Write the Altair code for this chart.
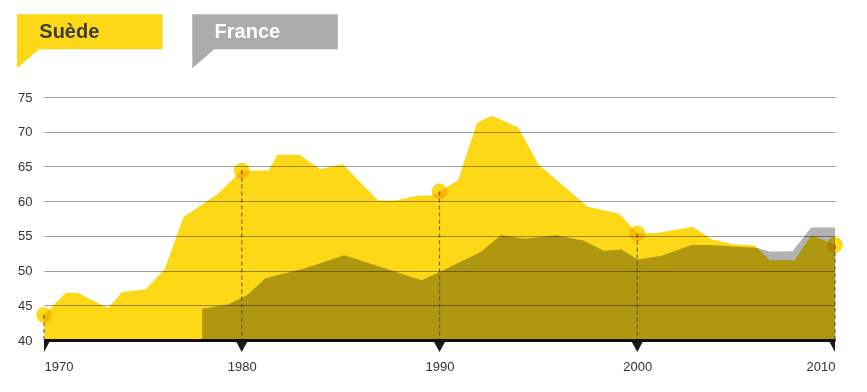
import altair as alt
import pandas as pd

# ---- data ----
sweden_years = [1970.0, 1971.1, 1971.7, 1973.24, 1973.95, 1975.14, 1976.1, 1977.05,
                1978.72, 1980.0, 1980.57, 1981.37, 1981.8, 1982.93, 1983.95, 1985.1,
                1986.9, 1987.8, 1988.9, 1989.6, 1990.0, 1990.94, 1991.9, 1992.65,
                1993.98, 1995.0, 1997.5, 1999.1, 2000.0, 2001.0, 2002.8, 2003.76,
                2004.85, 2005.95, 2006.7, 2007.97, 2008.8, 2010.0]
sweden_values = [43.6, 46.8, 46.8, 44.6, 46.9, 47.3, 50.2, 57.7,
                 60.9, 64.4, 64.4, 64.4, 66.7, 66.7, 64.6, 65.3,
                 60.1, 60.1, 60.8, 60.8, 61.4, 63.0, 71.3, 72.3,
                 70.6, 65.3, 59.2, 58.2, 55.35, 55.4, 56.3, 54.5,
                 53.8, 53.6, 51.5, 51.5, 55.1, 53.7]

france_years = [1978.0, 1979.3, 1980.3, 1981.2, 1983.15, 1985.2, 1989.1, 1990.0,
                1992.1, 1993.1, 1994.3, 1995.9, 1997.3, 1998.3, 1999.2, 2000.0,
                2001.2, 2002.75, 2003.6, 2006.0, 2006.75, 2007.85, 2008.8, 2010.0]
france_values = [44.5, 45.1, 46.5, 48.9, 50.3, 52.2, 48.6, 49.8,
                 52.7, 55.1, 54.6, 55.1, 54.3, 52.85, 53.05, 51.6,
                 52.1, 53.7, 53.7, 53.3, 52.7, 52.8, 56.2, 56.2]

series_names = ["Suède", "France"]
decades = [1970, 1980, 1990, 2000, 2010]
y_ticks = [40, 45, 50, 55, 60, 65, 70, 75]

# ---- styling ----
YELLOW = "#FCD817"
GREY = "#B2B2B2"
LEGEND_GREY = "#ABABAB"
FONT = "Liberation Sans"
W, H = 791, 243

sw = pd.DataFrame({"year": sweden_years, "value": sweden_values})
fr = pd.DataFrame({"year": france_years, "value": france_values})
marks_df = sw[sw["year"].isin(decades)].reset_index(drop=True)
kinds = ["start" if d == decades[0] else ("end" if d == decades[-1] else "mid") for d in decades]
ticks_df = pd.DataFrame({"year": decades, "kind": kinds})

x_scale = alt.Scale(domain=[decades[0], decades[-1]], nice=False, zero=False)
y_scale = alt.Scale(domain=[y_ticks[0], y_ticks[-1]], nice=False, zero=False)

x_axis = alt.Axis(values=decades, format="d", labelFlush=True, ticks=False, tickSize=0,
                  grid=False, domainColor="#111111", domainWidth=3, labelPadding=20,
                  labelFontSize=13, labelFont=FONT, labelColor="#333333", title=None, zindex=1)
y_axis = alt.Axis(values=y_ticks, grid=True, gridColor="#000000", gridOpacity=0.38,
                  gridWidth=1, domain=False, ticks=False, tickSize=0, labelPadding=12,
                  labelFontSize=13, labelFont=FONT, labelColor="#333333", title=None, zindex=1)


def X():
    return alt.X("year:Q", scale=x_scale, axis=x_axis)


def Y():
    return alt.Y("value:Q", scale=y_scale, axis=y_axis)


sweden_area = alt.Chart(sw).mark_area(color=YELLOW, opacity=1).encode(
    x=X(), y=Y(), y2=alt.datum(y_ticks[0]),
)

france_area = alt.Chart(fr).mark_area(color=GREY, opacity=1, blend="multiply").encode(
    x=X(), y=Y(), y2=alt.datum(y_ticks[0]),
)

rules = alt.Chart(marks_df).mark_rule(color="#555555", strokeDash=[4, 3], strokeWidth=1.2,
                                      opacity=0.85).encode(
    x=X(), y=Y(), y2=alt.datum(y_ticks[0]),
)

circles = alt.Chart(marks_df).mark_circle(color=YELLOW, size=245, opacity=1,
                                          blend="multiply").encode(
    x=X(), y=Y(),
)

p_full = "M-6.5,0 L6.5,0 L0,12 Z"
p_start = "M0,0 L6.5,0 L0,12 Z"
p_end = "M-6.5,0 L0,0 L0,12 Z"
triangles = alt.Chart(ticks_df).mark_point(filled=True, size=4, opacity=1, color="#1a1a1a",
                                           strokeWidth=0).encode(
    x=X(),
    y=alt.value(H),
    shape=alt.Shape("kind:N", scale=alt.Scale(domain=["start", "mid", "end"],
                                              range=[p_start, p_full, p_end]), legend=None),
)

box_path = "M0,0 H145.5 V35 H22 L0,54 Z"


def legend_item(name, x0, fill, text_color):
    d = pd.DataFrame({"name": [name]})
    box = alt.Chart(d).mark_point(shape=box_path, size=4, filled=True, color=fill,
                                  opacity=1, strokeWidth=0).encode(
        x=alt.value(x0), y=alt.value(-82.7))
    txt = alt.Chart(d).mark_text(align="left", baseline="alphabetic", font=FONT,
                                 fontWeight="bold", fontSize=20, color=text_color).encode(
        x=alt.value(x0 + 22.3), y=alt.value(-59.3), text="name:N")
    return [box, txt]


legend_layers = legend_item(series_names[0], -27, YELLOW, "#3d3d3d") + \
    legend_item(series_names[1], 148.3, LEGEND_GREY, "#ffffff")

chart = alt.layer(sweden_area, france_area, rules, circles, triangles, *legend_layers).properties(
    width=W, height=H,
    padding={"left": 36, "top": 89, "right": 24, "bottom": 44},
    autosize=alt.AutoSizeParams(type="none"),
    background="white",
).configure_view(stroke=None)

chart.save("out.html", embed_options={"renderer": "svg", "actions": False})
